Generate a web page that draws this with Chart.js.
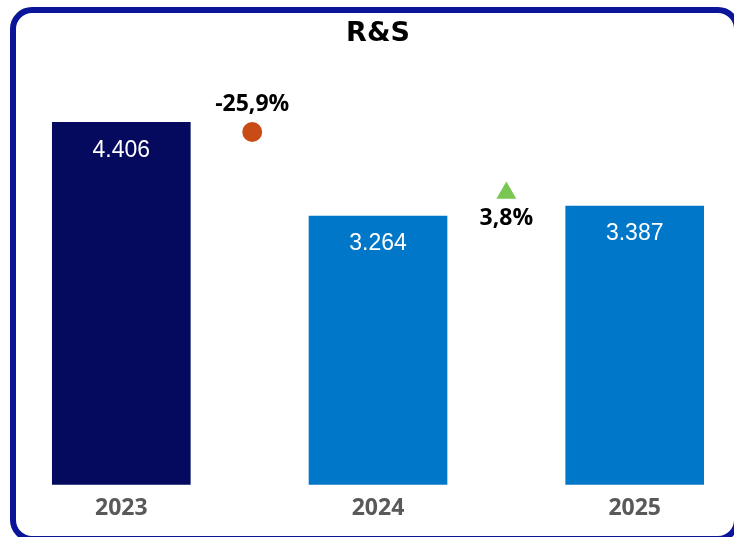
<!DOCTYPE html>
<html>
<head>
<meta charset="utf-8">
<script src="https://cdn.jsdelivr.net/npm/chart.js@4.4.1/dist/chart.umd.min.js"></script>
<style>
  html, body { margin: 0; padding: 0; background: #fff; overflow: hidden; }
  body { width: 734px; height: 537px; position: relative; }
  #marco {
    position: absolute; left: 10px; top: 7px;
    width: 718px; height: 523px;
    border: 6px solid #0b1599; border-radius: 22px;
    background: #fff;
  }
  #lienzo { position: absolute; left: 0; top: 0; }
</style>
</head>
<body>
<div id="marco"></div>
<canvas id="lienzo" width="734" height="537"></canvas>
<script>
// datos del gráfico
const anios = ['2023', '2024', '2025'];
const valores = [4406, 3264, 3387];
const coloresBarras = ['#060a5f', '#0077c8', '#0077c8'];

// variaciones entre años (marcadores)
const variacionX = [0.51, 1.5];
const variacionY = [4287, 3545];
const variacionTexto = ['-25,9%', '3,8%'];
const variacionForma = ['circle', 'triangle'];
const variacionColor = ['#c94c17', '#78c752'];

function formatoMiles(n) {
    return String(n).replace(/\B(?=(\d{3})+(?!\d))/g, '.');
}

// etiquetas de valores y de variación
const etiquetasPlugin = {
    id: 'etiquetas',
    afterDatasetsDraw(chart) {
        const ctx = chart.ctx;
        ctx.save();
        ctx.textAlign = 'center';
        ctx.textBaseline = 'middle';

        const barras = chart.getDatasetMeta(0).data;
        ctx.fillStyle = '#ffffff';
        ctx.font = '23px "Liberation Sans", Arial, sans-serif';
        barras.forEach((barra, i) => {
            ctx.fillText(formatoMiles(valores[i]), barra.x, barra.y + 28);
        });

        const puntos = chart.getDatasetMeta(1).data;
        ctx.fillStyle = '#000000';
        ctx.font = 'bold 23px "Open Sans", sans-serif';
        puntos.forEach((p, i) => {
            // el círculo lleva el texto encima, el triángulo debajo
            const dy = i === 0 ? -28 : 25;
            ctx.fillText(variacionTexto[i], p.x, p.y + dy);
        });
        ctx.restore();
    }
};

const ctx = document.getElementById('lienzo').getContext('2d');
new Chart(ctx, {
    type: 'bar',
    data: {
        datasets: [
            {
                type: 'bar',
                data: valores.map((v, i) => ({ x: i, y: v })),
                backgroundColor: coloresBarras,
                barThickness: 138,
                clip: false,
                order: 2
            },
            {
                type: 'line',
                data: variacionX.map((x, i) => ({ x: x, y: variacionY[i] })),
                showLine: false,
                pointStyle: variacionForma,
                pointRadius: [10, 11.5],
                pointBackgroundColor: variacionColor,
                pointBorderWidth: 0,
                clip: false,
                order: 1
            }
        ]
    },
    options: {
        responsive: false,
        animation: false,
        layout: { padding: { left: 52, right: 30, top: 0, bottom: 5 } },
        plugins: {
            legend: { display: false },
            tooltip: { enabled: false },
            title: {
                display: true,
                text: 'R&S',
                color: '#000000',
                font: { family: '"DejaVu Sans", sans-serif', size: 27, weight: 'bold' },
                padding: { top: 17.3, bottom: 23.7 }
            }
        },
        scales: {
            x: {
                type: 'linear',
                min: -0.27,
                max: 2.27,
                offset: false,
                afterBuildTicks(scale) {
                    scale.ticks = anios.map((a, i) => ({ value: i }));
                },
                ticks: {
                    padding: 10,
                    color: '#595959',
                    font: { family: '"Open Sans", sans-serif', size: 23, weight: 'bold' },
                    callback: (v) => anios[v]
                },
                grid: { display: false, drawTicks: false },
                border: { display: false }
            },
            y: {
                display: false,
                min: 0,
                max: 5000
            }
        }
    },
    plugins: [etiquetasPlugin]
});
</script>
</body>
</html>
